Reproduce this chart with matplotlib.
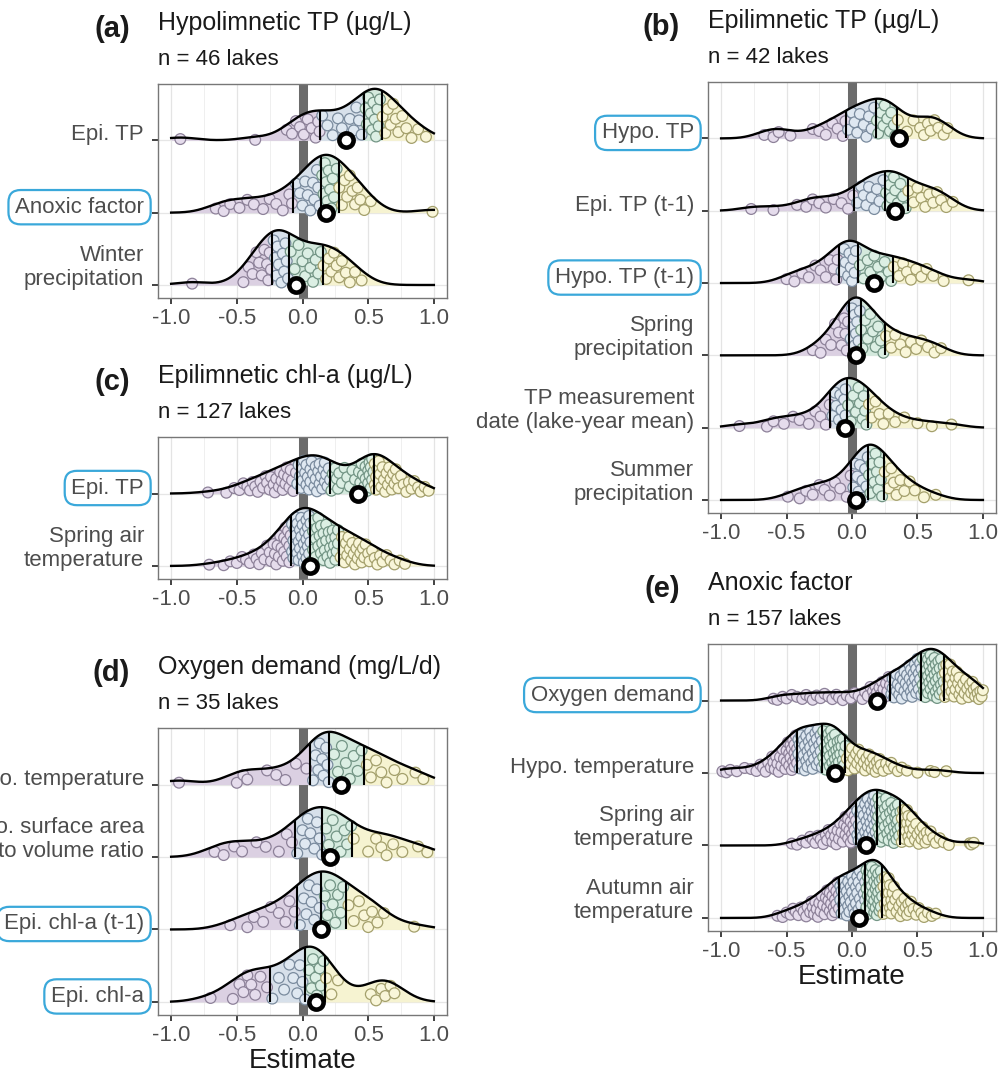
import numpy as np
import matplotlib.pyplot as plt
from matplotlib.transforms import offset_copy

plt.rcParams['font.family'] = ['Liberation Sans', 'DejaVu Sans']
plt.rcParams['axes.unicode_minus'] = False

# -----------------------------
# (a) Hypolimnetic TP - lake estimates per predictor
# -----------------------------
a_labels = ['Epi. TP', 'Anoxic factor', 'Winter\nprecipitation']
a_boxed = [False, True, False]
a_pooled = [0.33, 0.18, -0.05]
a_epi_tp = [-0.93, -0.36, -0.12, -0.08, -0.05, -0.02, 0.01, 0.04, 0.07, 0.1, 0.12,
            0.13, 0.15, 0.19, 0.23, 0.27, 0.3, 0.33, 0.36, 0.39, 0.41, 0.43, 0.45,
            0.48, 0.49, 0.5, 0.52, 0.53, 0.54, 0.55, 0.56, 0.57, 0.58, 0.59,
            0.61, 0.63, 0.65, 0.67, 0.69, 0.71, 0.73, 0.76, 0.79, 0.83, 0.88, 0.94]
a_anoxic = [-0.66, -0.6, -0.55, -0.48, -0.42, -0.37, -0.3, -0.25, -0.2, -0.15, -0.1,
            -0.08, -0.05, -0.02, 0.0, 0.02, 0.04, 0.06, 0.08, 0.09, 0.11, 0.12, 0.13,
            0.15, 0.16, 0.17, 0.18, 0.19, 0.2, 0.21, 0.22, 0.23, 0.24, 0.26,
            0.28, 0.3, 0.32, 0.34, 0.36, 0.38, 0.4, 0.42, 0.44, 0.47, 0.52, 0.99]
a_winter_precip = [-0.84, -0.45, -0.41, -0.38, -0.35, -0.33, -0.31, -0.29, -0.27, -0.26, -0.25,
                   -0.24, -0.22, -0.21, -0.2, -0.19, -0.18, -0.16, -0.15, -0.14, -0.13, -0.12, -0.11,
                   -0.09, -0.06, -0.03, 0.0, 0.02, 0.04, 0.06, 0.08, 0.1, 0.12, 0.14,
                   0.16, 0.18, 0.2, 0.22, 0.24, 0.26, 0.28, 0.3, 0.33, 0.36, 0.4, 0.45]

# -----------------------------
# (b) Epilimnetic TP
# -----------------------------
b_labels = ['Hypo. TP', 'Epi. TP (t-1)', 'Hypo. TP (t-1)', 'Spring\nprecipitation',
            'TP measurement\ndate (lake-year mean)', 'Summer\nprecipitation']
b_boxed = [True, False, True, False, False, False]
b_pooled = [0.36, 0.33, 0.17, 0.03, -0.05, 0.03]
b_hypo_tp = [-0.67, -0.6, -0.56, -0.47, -0.3, -0.25, -0.2, -0.15, -0.11, -0.07,
             -0.05, -0.03, 0.0, 0.02, 0.04, 0.06, 0.09, 0.11, 0.13, 0.15, 0.17,
             0.19, 0.2, 0.22, 0.24, 0.25, 0.27, 0.29, 0.3, 0.32, 0.33,
             0.35, 0.42, 0.47, 0.52, 0.55, 0.58, 0.6, 0.63, 0.66, 0.7, 0.73]
b_epi_tp_lag = [-0.77, -0.6, -0.42, -0.35, -0.3, -0.25, -0.2, -0.14, -0.08, -0.03,
                0.01, 0.04, 0.07, 0.09, 0.11, 0.13, 0.15, 0.17, 0.19, 0.21, 0.24,
                0.26, 0.27, 0.29, 0.3, 0.32, 0.33, 0.35, 0.37, 0.39, 0.41,
                0.43, 0.47, 0.5, 0.53, 0.56, 0.59, 0.62, 0.65, 0.68, 0.72, 0.77]
b_hypo_tp_lag = [-0.5, -0.44, -0.38, -0.33, -0.28, -0.24, -0.2, -0.17, -0.14, -0.12,
                 -0.11, -0.08, -0.06, -0.05, -0.03, -0.02, -0.01, 0.0, 0.01, 0.02, 0.03,
                 0.06, 0.09, 0.12, 0.14, 0.17, 0.2, 0.22, 0.25, 0.28, 0.3,
                 0.32, 0.36, 0.39, 0.42, 0.45, 0.49, 0.53, 0.57, 0.62, 0.7, 0.89]
b_spring_precip = [-0.3, -0.24, -0.2, -0.16, -0.13, -0.1, -0.08, -0.06, -0.05, -0.04,
                   -0.03, -0.01, 0.0, 0.01, 0.02, 0.02, 0.03, 0.04, 0.04, 0.05, 0.06,
                   0.07, 0.08, 0.1, 0.12, 0.14, 0.16, 0.18, 0.2, 0.22, 0.24,
                   0.26, 0.3, 0.33, 0.37, 0.41, 0.45, 0.49, 0.53, 0.58, 0.63, 0.68]
b_tp_date = [-0.86, -0.65, -0.6, -0.52, -0.45, -0.4, -0.33, -0.28, -0.24, -0.2,
             -0.17, -0.15, -0.13, -0.12, -0.1, -0.09, -0.08, -0.07, -0.06, -0.05, -0.05,
             -0.03, -0.01, 0.01, 0.03, 0.05, 0.06, 0.08, 0.09, 0.1, 0.11,
             0.13, 0.15, 0.18, 0.21, 0.24, 0.28, 0.33, 0.4, 0.5, 0.61, 0.76]
b_summer_precip = [-0.49, -0.4, -0.35, -0.3, -0.25, -0.21, -0.17, -0.13, -0.09, -0.04,
                   -0.01, 0.01, 0.02, 0.04, 0.05, 0.06, 0.08, 0.09, 0.1, 0.11, 0.12,
                   0.13, 0.14, 0.15, 0.17, 0.18, 0.19, 0.2, 0.21, 0.22, 0.23,
                   0.25, 0.28, 0.3, 0.32, 0.34, 0.37, 0.4, 0.44, 0.48, 0.55, 0.64]

# -----------------------------
# (c) Epilimnetic chl-a
# -----------------------------
c_labels = ['Epi. TP', 'Spring air\ntemperature']
c_boxed = [True, False]
c_pooled = [0.42, 0.06]
c_epi_tp = [-0.72, -0.58, -0.52, -0.48, -0.45, -0.42, -0.4, -0.38, -0.36, -0.34,
            -0.32, -0.3, -0.28, -0.27, -0.25, -0.24, -0.22, -0.21, -0.2, -0.18,
            -0.17, -0.16, -0.15, -0.14, -0.13, -0.12, -0.11, -0.1, -0.09, -0.08,
            -0.07, -0.05,
            -0.04, -0.03, -0.02, -0.01, 0.0, 0.0, 0.01, 0.02, 0.03, 0.03,
            0.04, 0.05, 0.06, 0.06, 0.07, 0.08, 0.09, 0.1, 0.1, 0.11,
            0.12, 0.13, 0.13, 0.14, 0.15, 0.16, 0.17, 0.17, 0.18, 0.19,
            0.2, 0.21,
            0.22, 0.23, 0.24, 0.25, 0.26, 0.27, 0.28, 0.3, 0.32, 0.34,
            0.36, 0.38, 0.4, 0.42, 0.43, 0.44, 0.45, 0.46, 0.47, 0.48,
            0.48, 0.49, 0.5, 0.5, 0.51, 0.51, 0.52, 0.52, 0.53, 0.53, 0.54,
            0.55, 0.55, 0.56, 0.56, 0.57, 0.58, 0.58, 0.59, 0.6, 0.61,
            0.62, 0.63, 0.64, 0.65, 0.66, 0.67, 0.68, 0.69, 0.7, 0.71,
            0.72, 0.73, 0.75, 0.77, 0.79, 0.81, 0.83, 0.85, 0.88, 0.9,
            0.93, 0.96]
c_spring_air = [-0.71, -0.6, -0.55, -0.5, -0.46, -0.43, -0.4, -0.37, -0.35, -0.33,
                -0.31, -0.29, -0.27, -0.25, -0.24, -0.22, -0.21, -0.2, -0.19, -0.18,
                -0.17, -0.16, -0.15, -0.14, -0.14, -0.13, -0.12, -0.12, -0.11, -0.1,
                -0.1, -0.09,
                -0.08, -0.08, -0.07, -0.07, -0.06, -0.06, -0.05, -0.05, -0.04, -0.04,
                -0.03, -0.03, -0.02, -0.02, -0.01, -0.01, 0.0, 0.0, 0.01, 0.01,
                0.02, 0.02, 0.03, 0.03, 0.03, 0.04, 0.04, 0.05, 0.05, 0.05,
                0.06, 0.06,
                0.07, 0.08, 0.08, 0.09, 0.1, 0.1, 0.11, 0.12, 0.12, 0.13,
                0.14, 0.14, 0.15, 0.16, 0.16, 0.17, 0.18, 0.18, 0.19, 0.2,
                0.21, 0.21, 0.22, 0.23, 0.23, 0.24, 0.25, 0.25, 0.26, 0.27, 0.27,
                0.29, 0.3, 0.31, 0.32, 0.33, 0.34, 0.35, 0.36, 0.37, 0.38,
                0.39, 0.4, 0.41, 0.42, 0.43, 0.44, 0.45, 0.46, 0.47, 0.48,
                0.5, 0.51, 0.53, 0.55, 0.57, 0.59, 0.61, 0.64, 0.67, 0.7,
                0.74, 0.78]

# -----------------------------
# (d) Oxygen demand
# -----------------------------
d_labels = ['Hypo. temperature', 'Hypo. surface area\nto volume ratio',
            'Epi. chl-a (t-1)', 'Epi. chl-a']
d_boxed = [False, False, True, True]
d_pooled = [0.29, 0.21, 0.14, 0.10]
d_hypo_temp = [-0.94, -0.5, -0.45, -0.42, -0.27, -0.2, -0.13, -0.05, 0.03,
               0.08, 0.1, 0.12, 0.13, 0.15, 0.16, 0.18, 0.19,
               0.2, 0.24, 0.27, 0.3, 0.33, 0.36, 0.39, 0.42, 0.45,
               0.49, 0.52, 0.56, 0.6, 0.64, 0.7, 0.76, 0.86, 0.92]
d_surface_ratio = [-0.67, -0.6, -0.52, -0.46, -0.35, -0.28, -0.18, -0.12, -0.08,
                   -0.04, 0.0, 0.02, 0.04, 0.06, 0.09, 0.11, 0.13,
                   0.15, 0.18, 0.2, 0.23, 0.26, 0.29, 0.32, 0.34, 0.37,
                   0.39, 0.5, 0.56, 0.6, 0.64, 0.69, 0.76, 0.88, 0.95]
d_epi_chla_lag = [-0.55, -0.42, -0.37, -0.3, -0.24, -0.18, -0.13, -0.1, -0.06,
                  -0.02, 0.01, 0.03, 0.05, 0.07, 0.09, 0.11, 0.13,
                  0.14, 0.17, 0.19, 0.21, 0.23, 0.25, 0.27, 0.29, 0.31,
                  0.35, 0.39, 0.43, 0.47, 0.5, 0.53, 0.57, 0.62, 0.85]
d_epi_chla = [-0.7, -0.53, -0.48, -0.45, -0.42, -0.39, -0.36, -0.32, -0.27,
              -0.23, -0.18, -0.14, -0.1, -0.07, -0.04, -0.02, 0.0,
              0.02, 0.05, 0.07, 0.08, 0.1, 0.11, 0.13, 0.14, 0.16,
              0.18, 0.22, 0.27, 0.52, 0.56, 0.6, 0.63, 0.67, 0.7]

# -----------------------------
# (e) Anoxic factor
# -----------------------------
e_labels = ['Oxygen demand', 'Hypo. temperature', 'Spring air\ntemperature',
            'Autumn air\ntemperature']
e_boxed = [True, False, False, False]
e_pooled = [0.19, -0.13, 0.11, 0.05]
e_oxygen = [-0.6, -0.57, -0.53, -0.5, -0.46, -0.42, -0.38, -0.35, -0.32, -0.3,
            -0.27, -0.24, -0.21, -0.18, -0.15, -0.12, -0.1, -0.07, -0.04, -0.01,
            0.02, 0.05, 0.08, 0.1, 0.12, 0.14, 0.16, 0.17, 0.18, 0.19,
            0.2, 0.21, 0.22, 0.23, 0.24, 0.25, 0.26, 0.27, 0.28,
            0.29, 0.3, 0.31, 0.31, 0.32, 0.33, 0.34, 0.34, 0.35, 0.36,
            0.37, 0.37, 0.38, 0.39, 0.4, 0.4, 0.41, 0.42, 0.42, 0.43,
            0.44, 0.44, 0.45, 0.45, 0.46, 0.46, 0.47, 0.47, 0.48, 0.48,
            0.49, 0.49, 0.5, 0.5, 0.51, 0.51, 0.52, 0.52, 0.53,
            0.53, 0.54, 0.54, 0.55, 0.55, 0.56, 0.56, 0.56, 0.57, 0.57,
            0.58, 0.58, 0.58, 0.59, 0.59, 0.6, 0.6, 0.6, 0.61, 0.61,
            0.62, 0.62, 0.62, 0.63, 0.63, 0.64, 0.64, 0.64, 0.65, 0.65,
            0.66, 0.66, 0.66, 0.67, 0.67, 0.68, 0.68, 0.69, 0.69,
            0.7, 0.7, 0.71, 0.71, 0.72, 0.72, 0.73, 0.73, 0.74, 0.74,
            0.75, 0.75, 0.76, 0.77, 0.77, 0.78, 0.79, 0.79, 0.8, 0.81,
            0.82, 0.82, 0.83, 0.84, 0.85, 0.86, 0.87, 0.88, 0.89, 0.9,
            0.91, 0.92, 0.93, 0.94, 0.95, 0.96, 0.97, 0.98, 0.99, 1.0]
e_hypo_temp = [-0.99, -0.96, -0.93, -0.88, -0.82, -0.77, -0.73, -0.7, -0.68, -0.66,
               -0.64, -0.62, -0.61, -0.6, -0.59, -0.58, -0.57, -0.56, -0.55, -0.54,
               -0.53, -0.52, -0.51, -0.5, -0.5, -0.49, -0.48, -0.48, -0.47, -0.47,
               -0.46, -0.46, -0.45, -0.45, -0.44, -0.44, -0.44, -0.43, -0.43,
               -0.42, -0.42, -0.41, -0.41, -0.4, -0.4, -0.39, -0.39, -0.38, -0.38,
               -0.37, -0.37, -0.36, -0.36, -0.35, -0.35, -0.34, -0.34, -0.33, -0.33,
               -0.32, -0.32, -0.31, -0.31, -0.3, -0.3, -0.29, -0.29, -0.28, -0.28,
               -0.27, -0.27, -0.26, -0.26, -0.25, -0.25, -0.24, -0.24, -0.23,
               -0.23, -0.22, -0.22, -0.21, -0.21, -0.2, -0.2, -0.2, -0.19, -0.19,
               -0.18, -0.18, -0.17, -0.17, -0.17, -0.16, -0.16, -0.15, -0.15, -0.14,
               -0.14, -0.14, -0.13, -0.13, -0.12, -0.12, -0.11, -0.11, -0.11, -0.1,
               -0.1, -0.09, -0.09, -0.08, -0.08, -0.07, -0.07, -0.06, -0.06,
               -0.05, -0.04, -0.03, -0.02, -0.01, 0.0, 0.01, 0.02, 0.03, 0.04,
               0.05, 0.06, 0.07, 0.08, 0.09, 0.1, 0.11, 0.12, 0.13, 0.14,
               0.15, 0.16, 0.17, 0.18, 0.19, 0.2, 0.21, 0.22, 0.24, 0.26,
               0.28, 0.3, 0.32, 0.35, 0.38, 0.42, 0.5, 0.6, 0.63, 0.72]
e_spring_air = [-0.46, -0.42, -0.38, -0.35, -0.32, -0.3, -0.28, -0.26, -0.24, -0.22,
                -0.2, -0.19, -0.18, -0.16, -0.15, -0.14, -0.13, -0.12, -0.11, -0.1,
                -0.09, -0.08, -0.07, -0.06, -0.05, -0.05, -0.04, -0.03, -0.03, -0.02,
                -0.01, -0.01, 0.0, 0.0, 0.01, 0.01, 0.02, 0.02, 0.03,
                0.03, 0.04, 0.04, 0.05, 0.05, 0.06, 0.06, 0.07, 0.07, 0.08,
                0.08, 0.08, 0.09, 0.09, 0.1, 0.1, 0.11, 0.11, 0.12, 0.12,
                0.12, 0.13, 0.13, 0.14, 0.14, 0.15, 0.15, 0.15, 0.16, 0.16,
                0.16, 0.17, 0.17, 0.17, 0.18, 0.18, 0.18, 0.19, 0.19,
                0.19, 0.2, 0.2, 0.2, 0.21, 0.21, 0.22, 0.22, 0.22, 0.23,
                0.23, 0.24, 0.24, 0.25, 0.25, 0.26, 0.26, 0.27, 0.27, 0.28,
                0.28, 0.29, 0.29, 0.3, 0.3, 0.31, 0.31, 0.32, 0.32, 0.33,
                0.33, 0.33, 0.34, 0.34, 0.34, 0.35, 0.35, 0.35, 0.36,
                0.37, 0.37, 0.38, 0.38, 0.39, 0.39, 0.4, 0.4, 0.41, 0.41,
                0.42, 0.42, 0.43, 0.43, 0.44, 0.44, 0.45, 0.46, 0.46, 0.47,
                0.48, 0.49, 0.5, 0.51, 0.52, 0.53, 0.54, 0.55, 0.56, 0.57,
                0.58, 0.6, 0.62, 0.64, 0.67, 0.7, 0.74, 0.9, 0.91, 0.93]
e_autumn_air = [-0.57, -0.53, -0.5, -0.47, -0.45, -0.43, -0.41, -0.39, -0.37, -0.35,
                -0.34, -0.32, -0.31, -0.3, -0.29, -0.28, -0.27, -0.26, -0.25, -0.24,
                -0.23, -0.22, -0.21, -0.2, -0.19, -0.19, -0.18, -0.17, -0.17, -0.16,
                -0.15, -0.15, -0.14, -0.14, -0.13, -0.13, -0.12, -0.12, -0.11,
                -0.1, -0.1, -0.09, -0.09, -0.08, -0.08, -0.07, -0.07, -0.06, -0.06,
                -0.05, -0.05, -0.04, -0.04, -0.03, -0.03, -0.02, -0.02, -0.01, -0.01,
                0.0, 0.0, 0.01, 0.01, 0.02, 0.02, 0.03, 0.03, 0.04, 0.04,
                0.05, 0.05, 0.06, 0.06, 0.07, 0.07, 0.08, 0.09, 0.1,
                0.1, 0.1, 0.11, 0.11, 0.11, 0.12, 0.12, 0.12, 0.13, 0.13,
                0.13, 0.14, 0.14, 0.14, 0.15, 0.15, 0.15, 0.16, 0.16, 0.16,
                0.17, 0.17, 0.17, 0.18, 0.18, 0.18, 0.19, 0.19, 0.19, 0.19,
                0.2, 0.2, 0.2, 0.21, 0.21, 0.21, 0.22, 0.22, 0.22,
                0.23, 0.23, 0.24, 0.24, 0.25, 0.25, 0.26, 0.26, 0.27, 0.27,
                0.28, 0.28, 0.29, 0.29, 0.3, 0.3, 0.31, 0.31, 0.32, 0.33,
                0.34, 0.35, 0.36, 0.37, 0.38, 0.39, 0.4, 0.41, 0.42, 0.43,
                0.44, 0.45, 0.47, 0.49, 0.51, 0.53, 0.55, 0.58, 0.61, 0.64]

# -----------------------------
# Colours (one per quartile)
# -----------------------------
fill_cols = ['#dbd0e2', '#d7e0ea', '#d4e9dd', '#f6f3d1']
dot_edge = ['#8d8199', '#7a8b9e', '#739585', '#a4a06c']
dot_fill = ['#e5dcec', '#dfe8f1', '#dcefe4', '#f9f6d9']
box_blue = '#3aa8da'
text_grey = '#4d4d4d'

fig = plt.figure(figsize=(10, 10.8), dpi=100)


def add_panel(left, top, right, bottom):
    return fig.add_axes([left / 1000, 1 - bottom / 1080,
                         (right - left) / 1000, (bottom - top) / 1080])


def kde(vals, xs, bw):
    v = np.asarray(vals, float)[:, None]
    z = (np.asarray(xs, float)[None, :] - v) / bw
    return np.exp(-0.5 * z ** 2).sum(axis=0) / (v.size * bw * np.sqrt(2 * np.pi))


def nrd0(vals):
    v = np.asarray(vals, float)
    q75, q25 = np.percentile(v, [75, 25])
    spread = min(v.std(ddof=1), (q75 - q25) / 1.34)
    return 0.9 * spread * v.size ** -0.2


def ridges(ax, labels, rows, pooled, boxed, tag, title, n_text, xlabel=None):
    nrow = len(rows)
    grid = np.linspace(-1, 1, 801)
    bw = np.mean([nrd0(r) for r in rows])
    peak = max(kde(r, grid, bw).max() for r in rows)
    scale = 0.8 / peak

    # grid lines and the zero band
    for v in [-1, -0.5, 0, 0.5, 1]:
        ax.axvline(v, color='#e4e4e4', lw=0.9, zorder=0)
    for v in [-0.75, -0.25, 0.25, 0.75]:
        ax.axvline(v, color='#efefef', lw=0.7, zorder=0)
    for i in range(nrow):
        ax.axhline(nrow - 1 - i, color='#e6e6e6', lw=0.9, zorder=0)
    ax.axvline(0, color='#6b6b6b', lw=6.5, zorder=1)

    lab_tf = offset_copy(ax.get_yaxis_transform(), fig=fig, x=-14, y=0, units='dots')

    for i, vals in enumerate(rows):
        y0 = nrow - 1 - i
        z = 2 + i
        vals = np.sort(np.asarray(vals, float))
        qs = np.percentile(vals, [25, 50, 75])
        edges = [-1.0, *qs, 1.0]

        # quartile-coloured density
        for k in range(4):
            lo, hi = edges[k], edges[k + 1]
            xs = np.concatenate([[lo], grid[(grid > lo) & (grid < hi)], [hi]])
            ax.fill_between(xs, y0, y0 + kde(vals, xs, bw) * scale,
                            color=fill_cols[k], lw=0, zorder=z)

        # individual lakes, spread inside the ridge
        h = kde(vals, vals, bw) * scale
        u = (0.5 + np.arange(vals.size) * 0.618034) % 1.0
        grp = np.clip(np.searchsorted(qs, vals), 0, 3)
        ax.scatter(vals, y0 + (0.04 + 0.86 * u) * h, s=60,
                   facecolors=[dot_fill[g] for g in grp],
                   edgecolors=[dot_edge[g] for g in grp],
                   linewidths=0.9, zorder=z + 0.2)

        ax.plot(grid, y0 + kde(vals, grid, bw) * scale, color='black', lw=1.7, zorder=z + 0.3)
        ax.vlines(qs, y0, y0 + kde(vals, qs, bw) * scale, color='black', lw=1.5, zorder=z + 0.4)

        # pooled estimate
        ax.scatter([pooled[i]], [y0], s=105, facecolor='white', edgecolor='black',
                   linewidths=3.3, zorder=40)

        # row label, last line sitting on the baseline
        lines = labels[i].split('\n')
        for j, line in enumerate(reversed(lines)):
            t = ax.text(0, y0, line, transform=offset_copy(lab_tf, fig=fig, x=0, y=24 * j, units='dots'),
                        ha='right', va='baseline', fontsize=16, color=text_grey)
            if boxed[i]:
                t.set_bbox(dict(boxstyle='round,pad=0.3,rounding_size=0.55',
                                fc='white', ec=box_blue, lw=1.6))

    ax.set_xlim(-1.1, 1.1)
    ax.set_ylim(-0.18, nrow - 1 + 0.78)
    ax.set_xticks([-1, -0.5, 0, 0.5, 1])
    ax.set_xticklabels(['-1.0', '-0.5', '0.0', '0.5', '1.0'])
    ax.set_yticks(range(nrow))
    ax.set_yticklabels([])
    ax.tick_params(axis='both', length=4, width=1.3, color='#333333',
                   labelsize=16, labelcolor=text_grey, pad=3)
    for s in ax.spines.values():
        s.set_color('#777777')
        s.set_linewidth(1.0)
    if xlabel:
        ax.set_xlabel(xlabel, fontsize=20, color='#1a1a1a', labelpad=2)

    # panel header
    pos = ax.get_position()
    left_px = pos.x0 * 1000
    top_px = (1 - pos.y1) * 1080
    fig.text(left_px / 1000, 1 - (top_px - 54) / 1080, title, fontsize=18,
             color='#1a1a1a', ha='left', va='baseline')
    fig.text(left_px / 1000, 1 - (top_px - 19) / 1080, n_text, fontsize=16,
             color='#1a1a1a', ha='left', va='baseline')
    fig.text((left_px - 28) / 1000, 1 - (top_px - 47) / 1080, tag, fontsize=21,
             fontweight='bold', color='#1a1a1a', ha='right', va='baseline')


# -----------------------------
# Panels
# -----------------------------
ax_a = add_panel(158, 84, 447, 298)
ridges(ax_a, a_labels, [a_epi_tp, a_anoxic, a_winter_precip], a_pooled, a_boxed,
       '(a)', 'Hypolimnetic TP (µg/L)', 'n = 46 lakes')

ax_b = add_panel(708, 82, 996, 513)
ridges(ax_b, b_labels, [b_hypo_tp, b_epi_tp_lag, b_hypo_tp_lag, b_spring_precip,
                        b_tp_date, b_summer_precip], b_pooled, b_boxed,
       '(b)', 'Epilimnetic TP (µg/L)', 'n = 42 lakes')

ax_c = add_panel(158, 437, 447, 579)
ridges(ax_c, c_labels, [c_epi_tp, c_spring_air], c_pooled, c_boxed,
       '(c)', 'Epilimnetic chl-a (µg/L)', 'n = 127 lakes')

ax_d = add_panel(158, 728, 447, 1015)
ridges(ax_d, d_labels, [d_hypo_temp, d_surface_ratio, d_epi_chla_lag, d_epi_chla],
       d_pooled, d_boxed, '(d)', 'Oxygen demand (mg/L/d)', 'n = 35 lakes', xlabel='Estimate')

ax_e = add_panel(708, 644, 996, 931)
ridges(ax_e, e_labels, [e_oxygen, e_hypo_temp, e_spring_air, e_autumn_air],
       e_pooled, e_boxed, '(e)', 'Anoxic factor', 'n = 157 lakes', xlabel='Estimate')

fig.savefig('out.png', dpi=100)
